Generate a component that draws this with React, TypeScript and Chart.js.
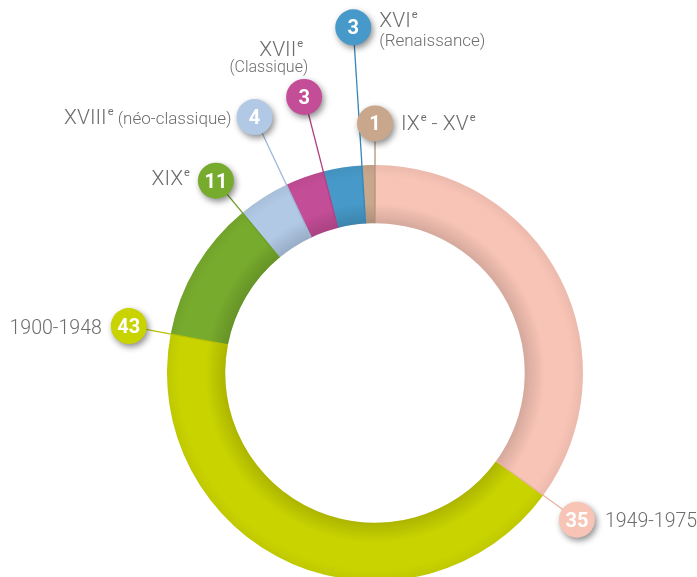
import { useEffect, useRef } from "react";
import { Chart, registerables } from "chart.js";

Chart.register(...registerables);

// ---- data ----
const categories = [
  "1949-1975",
  "1900-1948",
  "XIXe",
  "XVIIIe (néo-classique)",
  "XVIIe (Classique)",
  "XVIe (Renaissance)",
  "IXe - XVe",
];
const values = [35, 43, 11, 4, 3, 3, 1];
const colors = ["#f8c4b6", "#c9d300", "#77ab2d", "#b1c9e5", "#c44d97", "#4699c8", "#c9a78d"];
const lineColors = ["#eab2a2", "#b9c200", "#6a9c25", "#9db7d8", "#b13f84", "#3686b8", "#b39479"];

type Part = { t: string; k?: "sup" | "small" | "small2" };
const labelParts: Part[][][] = [
  [[{ t: "1949-1975" }]],
  [[{ t: "1900-1948" }]],
  [[{ t: "XIX" }, { t: "e", k: "sup" }]],
  [[{ t: "XVIII" }, { t: "e", k: "sup" }, { t: " (néo-classique)", k: "small" }]],
  [[{ t: "XVII" }, { t: "e", k: "sup" }], [{ t: "(Classique)", k: "small2" }]],
  [[{ t: "XVI" }, { t: "e", k: "sup" }], [{ t: "(Renaissance)", k: "small" }]],
  [[{ t: "IX" }, { t: "e", k: "sup" }, { t: " - XV" }, { t: "e", k: "sup" }]],
];

// ---- layout (not data) ----
const badgeDistance = [1.2, 1.205, 1.2, 1.36, 1.37, 1.665, 1.2];
const labelAlign: ("left" | "right")[] = ["left", "right", "right", "right", "right", "left", "left"];
const labelDx = [28, -27, -26, -23, [-1, 4], 26, 26] as (number | number[])[];
const labelDy = [[0], [0], [-3], [-1], [-48.5, -30.5], [-8, 13], [-1]];
const labelScaleX = [0.93, 0.93, 1, 1, 1, 1, 1];

const FONT = "Roboto, 'Open Sans', sans-serif";
const TEXT_COLOR = "#6d6d6d";

function fontFor(k?: string) {
  if (k === "sup") return `400 11px ${FONT}`;
  if (k === "small") return `300 17px ${FONT}`;
  if (k === "small2") return `300 16px ${FONT}`;
  return `300 21px ${FONT}`;
}

const overlayPlugin = {
  id: "badgeLabels",
  afterDatasetsDraw(chart: any) {
    const ctx: CanvasRenderingContext2D = chart.ctx;
    const meta = chart.getDatasetMeta(0);
    const first = meta.data[0];
    const { x: cx, y: cy, innerRadius, outerRadius } = first.getProps(
      ["x", "y", "innerRadius", "outerRadius"],
      true
    );

    // inner shading of the ring
    ctx.save();
    const g = ctx.createRadialGradient(cx, cy, innerRadius, cx, cy, innerRadius + 20);
    g.addColorStop(0, "rgba(0,0,0,0.14)");
    g.addColorStop(1, "rgba(0,0,0,0)");
    ctx.beginPath();
    ctx.arc(cx, cy, outerRadius, 0, Math.PI * 2);
    ctx.arc(cx, cy, innerRadius, 0, Math.PI * 2, true);
    ctx.fillStyle = g;
    ctx.fill();
    const g2 = ctx.createRadialGradient(cx, cy, outerRadius - 12, cx, cy, outerRadius);
    g2.addColorStop(0, "rgba(0,0,0,0)");
    g2.addColorStop(1, "rgba(0,0,0,0.05)");
    ctx.beginPath();
    ctx.arc(cx, cy, outerRadius, 0, Math.PI * 2);
    ctx.arc(cx, cy, innerRadius, 0, Math.PI * 2, true);
    ctx.fillStyle = g2;
    ctx.fill();
    ctx.restore();

    const badges: { x: number; y: number }[] = [];
    meta.data.forEach((arc: any, i: number) => {
      const { endAngle } = arc.getProps(["endAngle"], true);
      const x0 = cx + Math.cos(endAngle) * innerRadius;
      const y0 = cy + Math.sin(endAngle) * innerRadius;
      const bx = cx + Math.cos(endAngle) * outerRadius * badgeDistance[i];
      const by = cy + Math.sin(endAngle) * outerRadius * badgeDistance[i];
      badges.push({ x: bx, y: by });
      ctx.save();
      ctx.strokeStyle = lineColors[i];
      ctx.lineWidth = 1.3;
      ctx.beginPath();
      ctx.moveTo(x0, y0);
      ctx.lineTo(bx, by);
      ctx.stroke();
      ctx.restore();
    });

    badges.forEach((b, i) => {
      ctx.save();
      ctx.shadowColor = "rgba(0,0,0,0.45)";
      ctx.shadowBlur = 6;
      ctx.shadowOffsetX = 2;
      ctx.shadowOffsetY = 3;
      ctx.beginPath();
      ctx.arc(b.x, b.y, 18, 0, Math.PI * 2);
      ctx.fillStyle = colors[i];
      ctx.fill();
      ctx.restore();
      ctx.save();
      ctx.fillStyle = "#ffffff";
      ctx.font = `700 20px ${FONT}`;
      ctx.textAlign = "center";
      ctx.textBaseline = "alphabetic";
      ctx.fillText(String(values[i]), b.x, b.y + 7);
      ctx.restore();
    });

    // text labels
    badges.forEach((b, i) => {
      const lines = labelParts[i];
      const sx = labelScaleX[i];
      lines.forEach((parts, li) => {
        const dxSpec = labelDx[i];
        const dx = Array.isArray(dxSpec) ? dxSpec[li] : dxSpec;
        const dy = labelDy[i][li];
        const isSmallLine = parts.every((p) => p.k === "small" || p.k === "small2");
        const capHalf = isSmallLine ? 6 : 7.5;
        const baseline = b.y + dy + capHalf;
        ctx.save();
        let total = 0;
        const widths = parts.map((p) => {
          ctx.font = fontFor(p.k);
          const w = (ctx.measureText(p.t).width + (p.k === "sup" ? 1 : 0)) * sx;
          total += w;
          return w;
        });
        let x = labelAlign[i] === "left" ? b.x + dx : b.x + dx - total;
        ctx.fillStyle = TEXT_COLOR;
        ctx.textAlign = "left";
        ctx.textBaseline = "alphabetic";
        parts.forEach((p, pi) => {
          ctx.font = fontFor(p.k);
          const y = p.k === "sup" ? baseline - 9 : baseline;
          const px = x + (p.k === "sup" ? 1 : 0);
          ctx.save();
          ctx.translate(px, y);
          ctx.scale(sx, 1);
          ctx.fillText(p.t, 0, 0);
          ctx.restore();
          x += widths[pi];
        });
        ctx.restore();
      });
    });
  },
};

export default function App() {
  const ref = useRef<HTMLCanvasElement | null>(null);
  useEffect(() => {
    document.body.style.margin = "0";
    document.body.style.overflow = "hidden";
    const canvas = ref.current;
    if (!canvas) return;
    const chart = new Chart(canvas, {
      type: "doughnut",
      data: {
        labels: categories,
        datasets: [
          {
            data: values,
            backgroundColor: colors,
            borderWidth: 0,
          },
        ],
      },
      options: {
        responsive: false,
        animation: false,
        cutout: "72%",
        layout: { padding: { left: 167, right: 114, top: 165, bottom: 19 } },
        plugins: {
          legend: { display: false },
          tooltip: { enabled: false },
        },
      },
      plugins: [overlayPlugin],
    });
    return () => chart.destroy();
  }, []);
  return (
    <div style={{ width: 697, height: 577, overflow: "hidden", position: "relative", background: "#fff" }}>
      <canvas ref={ref} width={697} height={600} style={{ display: "block", width: 697, height: 600 }} />
    </div>
  );
}
